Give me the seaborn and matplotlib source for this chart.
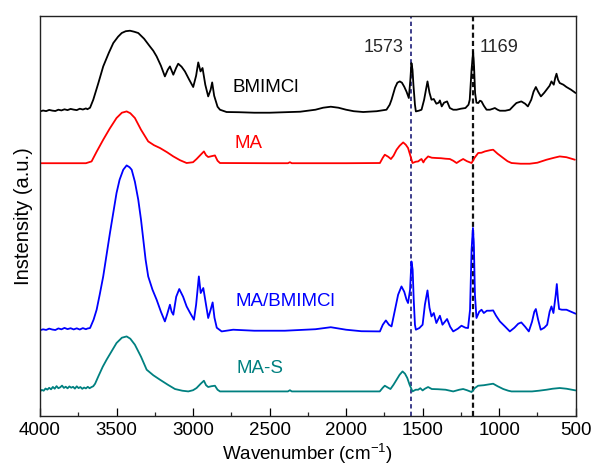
import numpy as np
import pandas as pd
import matplotlib
matplotlib.use("Agg")
import matplotlib.pyplot as plt
from matplotlib.ticker import MultipleLocator
import seaborn as sns

# FTIR spectra (wavenumber in cm^-1, stacked intensity in a.u.)
bmimcl_wn = [4000, 3980, 3960, 3940, 3920, 3900, 3880, 3860, 3840, 3820, 3800, 3780,
             3760, 3740, 3720, 3700, 3690, 3673, 3652, 3620,
             3587, 3550, 3521, 3490, 3466, 3440, 3412, 3385, 3358, 3320, 3282, 3260,
             3238, 3210, 3184, 3165, 3151, 3129, 3110, 3097, 3075, 3053, 3025, 2999,
             2980, 2966, 2951, 2938, 2920, 2901, 2885, 2875, 2862, 2840, 2824, 2781,
             2700, 2600, 2500, 2400, 2300, 2200, 2150, 2100, 2050, 2000, 1950, 1888,
             1800, 1736, 1715, 1703, 1680, 1665, 1649, 1635, 1620, 1605, 1590, 1580,
             1573, 1566, 1560, 1550, 1544, 1525, 1507, 1490, 1468, 1455, 1442, 1427,
             1410, 1395, 1387, 1375, 1360, 1340, 1322, 1300, 1278, 1250, 1220, 1200,
             1192, 1180, 1170, 1164, 1157, 1148, 1136, 1125, 1115, 1100, 1082, 1060,
             1040, 1028, 1010, 995, 960, 930, 905, 887, 855, 830, 812, 790, 775, 760,
             745, 727, 705, 690, 670, 658, 643, 633, 625, 615, 604, 580, 560, 530, 500]
bmimcl_int = [304.3, 305.2, 304.6, 305.8, 305.1, 304.7, 306.0, 305.3, 306.4, 305.6, 306.8, 306.1,
              305.6, 307.0, 306.2, 307.3, 306.5, 308, 316, 332,
              349.3, 363, 372.7, 379, 382.7, 384.5, 385, 384, 382.7, 377, 369.3, 365,
              359.3, 350, 339.3, 346, 349.3, 341, 348, 352, 349, 344.3, 336, 328.7,
              340, 353.3, 344.3, 347.7, 331, 319.3, 326, 333.3, 320, 309, 306, 303.7,
              303.5, 303, 303, 303.5, 304, 306, 308, 309, 308, 306, 304.5, 303.7,
              304.5, 306, 311, 316, 328, 333, 334.3, 333, 329, 324, 317.7, 336,
              352.7, 346, 331, 311, 304.3, 305, 306, 316, 334.3, 323, 316, 316.7,
              312, 313, 315.3, 309.3, 313, 314.3, 307.7, 306, 306, 307, 307.7, 311,
              316, 346, 364, 350, 322.7, 313, 312.7, 315, 314.3, 310, 306, 306,
              307, 307.7, 306, 305, 305, 306, 310, 312.7, 314.3, 312, 309.3, 316, 324, 328.7,
              324, 319.3, 323, 326, 330, 334.3, 331, 338, 342, 336, 332.7, 331, 328.7, 326, 322.7]

ma_wn = [4000, 3700, 3663, 3630, 3587, 3545, 3500, 3465, 3434, 3410, 3380, 3340,
         3293, 3255, 3216, 3170, 3129, 3085, 3042, 3000, 2977, 2950, 2929, 2915,
         2901, 2880, 2857, 2840, 2824, 2500, 2380, 2367, 2355, 2000, 1779, 1760,
         1747, 1725, 1707, 1690, 1670, 1650, 1627, 1610, 1595, 1580, 1566, 1545,
         1529, 1515, 1507, 1495, 1485, 1464, 1440, 1409, 1380, 1350, 1322, 1300,
         1278, 1255, 1235, 1210, 1180, 1160, 1137, 1115, 1093, 1060, 1039, 1010,
         973, 945, 919, 860, 800, 750, 690, 640, 604, 560, 505]
ma_int = [252.5, 252.5, 254.3, 264, 276, 287, 297.7, 303, 304.3, 302.5, 297.7, 286,
          274.3, 270.5, 267.7, 263.5, 259.3, 255.5, 252.7, 253.5, 256.7, 261, 264.3, 260.5,
          258.7, 259.5, 260.3, 255, 252.7, 252.5, 252.5, 253.5, 252.5, 252.5, 252.7, 258,
          261, 259, 256.7, 260, 266, 270, 273.3, 271, 267.7, 260, 252.7, 254,
          254.3, 256, 256.7, 253.3, 256, 259.3, 258, 257.7, 257.5, 257, 256.7, 255,
          252.7, 255, 256.7, 254.5, 252.7, 258, 262.7, 263, 264.3, 265.5, 266, 262,
          257.7, 254.5, 252.7, 252, 252, 253, 256, 258, 259.3, 258.5, 256]

mix_wn = [4000, 3980, 3960, 3940, 3920, 3900, 3880, 3860, 3840, 3820, 3800, 3780,
          3760, 3740, 3720, 3700, 3690, 3673, 3650, 3630,
          3610, 3587, 3565, 3543, 3520, 3500, 3480, 3456, 3434, 3415, 3401, 3380,
          3358, 3340, 3325, 3310, 3293, 3265, 3238, 3210, 3184, 3170, 3151, 3140,
          3129, 3110, 3090, 3065, 3042, 3020, 2994, 2980, 2962, 2950, 2933, 2915,
          2901, 2885, 2872, 2860, 2845, 2813, 2738, 2600, 2400, 2200, 2100, 2000,
          1900, 1779, 1760, 1740, 1720, 1703, 1680, 1660, 1638, 1620, 1605, 1595,
          1582, 1573, 1565, 1558, 1550, 1544, 1521, 1500, 1485, 1468, 1455, 1442,
          1427, 1410, 1387, 1370, 1340, 1320, 1300, 1270, 1246, 1220, 1203, 1190,
          1180, 1171, 1165, 1158, 1148, 1130, 1115, 1100, 1080, 1060, 1039, 1020,
          995, 960, 930, 900, 875, 855, 830, 806, 785, 770, 760, 745, 728, 705,
          686, 670, 658, 645, 630, 623, 615, 608, 590, 560, 530, 500]
mix_int = [85.5, 86.4, 85.8, 87.1, 86.2, 85.7, 87.3, 86.4, 87.8, 86.6, 87.5, 86.3,
           87.4, 86.2, 87.6, 86.5, 87.2, 87.7, 96, 106,
           121, 139.3, 161, 182.7, 204, 222.7, 236, 246, 250.3, 248.5, 246, 234,
           216, 196, 176, 156, 139.3, 126, 116, 104, 94.3, 101, 111, 104,
           101, 119, 126.7, 119, 109.3, 103, 96, 111, 139.3, 122.7, 127.7, 111,
           97.7, 106, 113.3, 98, 88, 84.3, 86, 85, 85, 86.5, 88.5, 86,
           84.5, 84.3, 91, 95.3, 91, 89.3, 106, 121, 129.3, 124, 116, 112.7,
           126, 154.3, 146, 116, 91, 86, 87.7, 91, 111, 125.3, 108, 99.3,
           102.7, 92.7, 100, 91, 96.7, 89, 84.3, 87, 90, 88, 87.7, 106,
           166, 187.7, 171, 121, 97.7, 104, 106, 102.7, 105, 105, 105.3, 100,
           94.3, 89, 84.3, 88, 92, 93.3, 89, 84.3, 94, 104, 106.7, 96, 86, 88,
           91, 104, 109.3, 102.7, 121, 131.7, 116, 106.7, 106, 106, 104, 102]

mas_wn = [4000, 3988, 3976, 3964, 3952, 3940, 3928, 3916, 3904, 3892, 3880, 3868,
          3856, 3844, 3832, 3820, 3808, 3796, 3784, 3772, 3760, 3748, 3736, 3724,
          3712, 3700, 3688, 3676, 3664, 3652, 3640, 3619, 3590, 3565, 3530, 3500,
          3465, 3434, 3410, 3380, 3340, 3303, 3260, 3216, 3165, 3118, 3070, 3031,
          3000, 2977, 2950, 2929, 2915, 2901, 2880, 2857, 2840, 2824, 2380, 2367,
          2355, 1780, 1760, 1747, 1725, 1710, 1690, 1670, 1650, 1631, 1615, 1600,
          1585, 1566, 1545, 1529, 1515, 1500, 1485, 1464, 1440, 1400, 1350, 1300,
          1260, 1235, 1210, 1180, 1160, 1137, 1100, 1060, 1039, 1010, 973, 940,
          919, 850, 785, 740, 690, 650, 604, 560, 500]
mas_int = [24.3, 25.8, 25.0, 27.2, 26.1, 27.9, 26.4, 28.8, 27.0, 29.6, 27.5, 28.4,
           30.1, 27.8, 29.0, 27.4, 29.3, 28.0, 28.9, 27.1, 29.4, 27.6, 28.7, 26.9,
           28.2, 27.3, 28.9, 27.5, 28.6, 29.5, 32, 39.3, 49, 56, 65, 72.7,
           78, 79.3, 77, 71, 59, 46, 40.5, 36, 31, 26.7, 25, 24.3,
           25.5, 27.7, 32, 35, 30.5, 28.7, 29.5, 30, 26, 24.3, 24.3, 25.5,
           24.3, 24.3, 28, 30, 28, 26.7, 31, 36, 41, 44.3, 42, 37.7,
           31, 24.3, 26, 26, 27.5, 25.3, 27, 28.7, 26.7, 26.5, 26, 24.3,
           26, 26.7, 25.5, 23.7, 27.5, 30, 30.5, 31.5, 32, 29.5, 26.7, 25,
           24.3, 24.3, 24.3, 25, 26, 27, 27.7, 27, 25.3]

series_names = ["BMIMCl", "MA", "MA/BMIMCl", "MA-S"]
series_colors = ["#000000", "#ff0000", "#0000ff", "#008080"]
marked_bands = [1573, 1169]
x_ticks = [4000, 3500, 3000, 2500, 2000, 1500, 1000, 500]

frames = []
for name, wn, inten in zip(series_names,
                           [bmimcl_wn, ma_wn, mix_wn, mas_wn],
                           [bmimcl_int, ma_int, mix_int, mas_int]):
    frames.append(pd.DataFrame({"wavenumber": wn, "intensity": inten, "sample": name}))
spectra = pd.concat(frames, ignore_index=True)

sns.set_theme(style="white")
plt.rcParams["font.family"] = ["Liberation Sans", "DejaVu Sans"]
plt.rcParams["mathtext.fontset"] = "custom"
plt.rcParams["mathtext.rm"] = "Liberation Sans"
plt.rcParams["mathtext.it"] = "Liberation Sans"

fig = plt.figure(figsize=(5.91, 4.69), dpi=100)
ax = fig.add_axes([0.0677, 0.1136, 0.9063, 0.8529])

# reference band positions
ax.axvline(marked_bands[0], color="#1c1c78", lw=1.2, ls=(0, (2.6, 1.9)), zorder=1.5)
ax.axvline(marked_bands[1], color="#111111", lw=1.6, ls=(0, (2.3, 1.4)), zorder=1.5)

sns.lineplot(data=spectra, x="wavenumber", y="intensity", hue="sample",
             hue_order=series_names, palette=series_colors, estimator=None,
             sort=True, lw=1.3, legend=False, ax=ax, zorder=2)

ax.set_xlim(4000, 500)
ax.set_ylim(0, 400)
ax.set_xticks(x_ticks)
ax.set_xticklabels([str(t) for t in x_ticks])
ax.xaxis.set_minor_locator(MultipleLocator(250))
ax.set_yticks([])
ax.tick_params(axis="x", which="major", direction="in", length=5.8, width=0.9,
               bottom=True, top=False, pad=4.5, labelsize=13.5, colors="black")
ax.tick_params(axis="x", which="minor", direction="in", length=3.0, width=0.9,
               bottom=True, top=False)
for sp in ax.spines.values():
    sp.set_visible(True)
    sp.set_color("#222222")
    sp.set_linewidth(1.0)

ax.set_xlabel("Wavenumber (cm$^{-1}$)", fontsize=13.5, labelpad=2, color="black")
ax.set_ylabel("Instensity (a.u.)", fontsize=14.5, labelpad=5, color="black")

label_pos = [(2740, 328), (2726, 272), (2720, 114.3), (2715, 47.7)]
for name, color, (xp, yp) in zip(series_names, series_colors, label_pos):
    ax.text(xp, yp, name, color=color, fontsize=13.5, ha="left", va="center")

ax.text(1623, 368, str(marked_bands[0]), fontsize=13, ha="right", va="center")
ax.text(1126, 368, str(marked_bands[1]), fontsize=13, ha="left", va="center")

fig.savefig("out.png", dpi=100, facecolor="white")
